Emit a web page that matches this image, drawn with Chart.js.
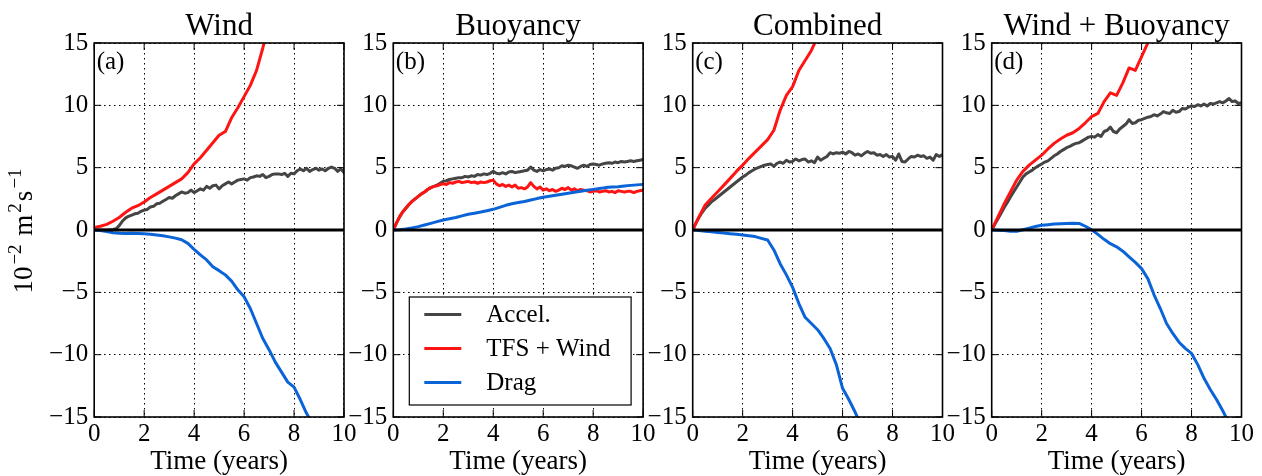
<!DOCTYPE html>
<html>
<head>
<meta charset="utf-8">
<script src="https://cdn.jsdelivr.net/npm/chart.js@4/dist/chart.umd.min.js"></script>
<style>
  html, body { margin: 0; padding: 0; background: #fff; }
  #wrap { position: relative; width: 1262px; height: 476px; overflow: hidden; }
  #wrap canvas { position: absolute; left: 0; top: 0; }
</style>
</head>
<body>
<div id="wrap">
  <canvas id="pa" width="1262" height="476"></canvas>
  <canvas id="pb" width="1262" height="476"></canvas>
  <canvas id="pc" width="1262" height="476"></canvas>
  <canvas id="pd" width="1262" height="476"></canvas>
</div>
<script>
// Time axis (years): fine sampling for the noisy series, coarse for the smooth ones
const yearsFine = [0,0.125,0.25,0.375,0.5,0.625,0.75,0.875,1,1.125,1.25,1.375,1.5,1.625,1.75,1.875,
  2,2.125,2.25,2.375,2.5,2.625,2.75,2.875,3,3.125,3.25,3.375,3.5,3.625,3.75,3.875,
  4,4.125,4.25,4.375,4.5,4.625,4.75,4.875,5,5.125,5.25,5.375,5.5,5.625,5.75,5.875,
  6,6.125,6.25,6.375,6.5,6.625,6.75,6.875,7,7.125,7.25,7.375,7.5,7.625,7.75,7.875,
  8,8.125,8.25,8.375,8.5,8.625,8.75,8.875,9,9.125,9.25,9.375,9.5,9.625,9.75,9.875,10];
const yearsCoarse = [0,0.25,0.5,0.75,1,1.25,1.5,1.75,2,2.25,2.5,2.75,3,3.25,3.5,3.75,
  4,4.25,4.5,4.75,5,5.25,5.5,5.75,6,6.25,6.5,6.75,7,7.25,7.5,7.75,8,8.25,8.5,8.75,9,9.25,9.5,9.75,10];

// Accel. (10^-2 m^2 s^-1), sampled on yearsFine
const accelWind = [0,0,0,0,0,0.02,0.05,0.1,
  0.35,0.7,0.95,1.1,1.2,1.3,1.35,1.5,
  1.6,1.65,1.85,1.9,2.1,2.15,2.3,2.45,
  2.6,2.55,2.75,2.9,3.05,2.95,3.0,3.2,
  3.0,3.15,3.3,3.2,3.5,3.35,3.55,3.6,
  3.3,3.55,3.7,3.85,3.7,3.85,4.0,4.05,
  4.1,4.0,4.2,4.25,4.35,4.3,4.45,4.2,
  4.3,4.45,4.5,4.5,4.45,4.55,4.3,4.55,
  4.5,4.75,4.9,4.75,4.95,4.7,4.85,4.95,
  4.8,4.9,4.75,4.95,5.05,4.95,4.7,4.9,4.6];
const accelBuoy = [0,0.55,1.05,1.45,1.75,2.05,2.3,2.5,
  2.7,2.9,3.05,3.25,3.4,3.5,3.6,3.75,
  3.9,3.95,4.05,4.1,4.15,4.2,4.2,4.3,
  4.25,4.35,4.3,4.45,4.4,4.5,4.45,4.55,
  4.7,4.55,4.5,4.6,4.5,4.65,4.7,4.6,
  4.65,4.7,4.75,4.8,5.05,4.8,4.7,4.85,
  4.75,4.85,4.9,4.8,4.95,5.0,5.15,5.1,
  5.2,5.15,5.05,4.95,5.1,5.2,5.1,5.25,
  5.3,5.25,5.2,5.3,5.35,5.4,5.35,5.45,
  5.4,5.5,5.45,5.5,5.55,5.5,5.55,5.6,5.65];
const accelComb = [0,0.55,1.0,1.4,1.75,2.0,2.25,2.45,
  2.65,2.85,3.05,3.25,3.45,3.65,3.85,4.05,
  4.25,4.4,4.6,4.75,4.9,5.0,5.1,5.2,
  5.25,5.3,5.1,5.35,5.45,5.35,5.6,5.45,
  5.5,5.7,5.55,5.65,5.7,5.45,5.55,5.4,
  5.85,5.6,5.75,5.9,6.2,6.1,6.2,6.15,
  6.25,6.1,6.3,6.2,6.0,6.1,5.95,6.15,
  6.3,6.15,6.2,6.0,6.05,5.9,6.05,5.85,
  5.9,5.6,6.1,5.5,5.45,5.7,5.9,5.85,
  6.0,5.9,5.95,5.75,5.85,5.6,6.05,5.9,6.05];
const accelWB = [0,0.45,0.9,1.35,1.8,2.2,2.65,3.05,
  3.45,3.85,4.25,4.5,4.65,4.8,5.0,5.15,
  5.3,5.45,5.55,5.75,5.95,6.1,6.3,6.45,
  6.6,6.7,6.85,6.95,7.0,7.15,7.3,7.45,
  7.5,7.45,7.65,7.5,7.9,8.0,8.25,7.9,
  7.8,8.1,8.3,8.5,8.85,8.55,8.6,8.8,
  8.85,8.95,9.05,9.1,9.25,9.15,9.3,9.5,
  9.4,9.35,9.6,9.45,9.5,9.75,9.7,9.85,
  9.95,9.9,10.05,9.95,10.1,9.95,10.15,10.1,
  10.2,10.3,10.2,10.35,10.55,10.3,10.35,10.15,10.2];

// TFS + Wind
const tfsWind = [0.2,0.3,0.45,0.7,1.0,1.4,1.75,1.95,2.25,2.6,2.9,3.2,3.5,3.8,4.1,4.6,
  5.3,5.8,6.4,7.0,7.6,7.9,9.0,9.8,10.7,11.6,12.8,14.6,16.6,
  null,null,null,null,null,null,null,null,null,null,null,null];
const tfsBuoy = [0,0.55,1.05,1.45,1.75,2.05,2.3,2.5,
  2.7,2.9,3.05,3.25,3.4,3.5,3.55,3.65,
  3.7,3.65,3.8,3.75,3.85,3.9,3.8,3.85,
  3.9,3.8,3.85,3.75,3.85,3.8,3.85,3.95,
  4.0,3.7,3.55,3.65,3.5,3.6,3.45,3.6,
  3.35,3.4,3.3,3.45,3.8,3.5,3.3,3.45,
  3.2,3.3,3.15,3.25,3.1,3.2,3.35,3.25,
  3.4,3.2,3.3,3.15,3.25,3.2,3.15,3.05,
  3.1,3.15,3.05,3.1,3.15,3.05,3.1,3.0,
  3.15,3.1,3.05,3.1,3.1,3.0,3.1,3.15,3.2];
const tfsComb = [0,1.05,2.0,2.55,3.07,3.6,4.14,4.7,5.2,5.75,6.25,6.75,7.25,8.0,9.6,10.8,
  11.5,12.8,13.6,14.4,15.5,
  null,null,null,null,null,null,null,null,null,null,null,null,null,null,null,null,null,null,null,null];
const tfsWB = [0,1.05,2.1,3.05,4.0,4.7,5.2,5.6,6.0,6.5,6.95,7.3,7.6,7.8,8.15,8.6,
  9.1,9.35,10.3,11.0,10.8,11.8,13.0,12.8,13.9,15.0,16.0,
  null,null,null,null,null,null,null,null,null,null,null,null,null,null];

// Drag
const dragWind = [0,-0.05,-0.12,-0.22,-0.27,-0.28,-0.27,-0.28,-0.3,-0.35,-0.4,-0.47,-0.55,-0.65,-0.78,-1.07,
  -1.55,-2.0,-2.4,-2.95,-3.26,-3.6,-4.1,-4.8,-5.35,-6.3,-7.5,-8.7,-9.6,-10.6,-11.4,-12.2,
  -12.6,-13.6,-14.7,-15.6,null,null,null,null,null];
const dragBuoy = [0,0.02,0.08,0.17,0.27,0.4,0.53,0.67,0.8,0.9,1.0,1.13,1.26,1.35,1.44,1.55,
  1.66,1.82,1.98,2.1,2.2,2.28,2.4,2.52,2.62,2.7,2.78,2.86,2.94,3.02,3.1,3.18,
  3.26,3.33,3.4,3.44,3.47,3.53,3.58,3.62,3.66];
const dragComb = [0,-0.05,-0.1,-0.15,-0.2,-0.25,-0.3,-0.35,-0.4,-0.47,-0.53,-0.67,-0.8,-1.6,-2.7,-3.6,
  -4.6,-5.9,-7.0,-7.5,-8.0,-8.7,-9.5,-10.8,-12.7,-13.6,-14.6,-15.7,
  null,null,null,null,null,null,null,null,null,null,null,null,null];
const dragWB = [0,-0.02,-0.05,-0.1,-0.1,0.02,0.15,0.28,0.38,0.43,0.48,0.5,0.53,0.55,0.53,0.3,
  0.02,-0.35,-0.75,-1.1,-1.35,-1.7,-2.15,-2.6,-3.1,-3.9,-5.2,-6.3,-7.5,-8.3,-9.0,-9.5,
  -9.9,-10.8,-11.9,-12.8,-13.6,-14.5,-15.5,null,null];

// Labels and ticks
const panelTitles = ['Wind', 'Buoyancy', 'Combined', 'Wind + Buoyancy'];
const panelLetters = ['(a)', '(b)', '(c)', '(d)'];
const seriesLabels = ['Accel.', 'TFS + Wind', 'Drag'];
const xTicks = [0, 2, 4, 6, 8, 10];
const yTicks = [-15, -10, -5, 0, 5, 10, 15];
const xTitle = 'Time (years)';
const yTitleParts = [['10', 0], ['\u22122', 1], [' m', 0], ['2', 1], ['s', 0], ['\u22121', 1]];

const colors = { accel: '#454545', tfs: '#ff1414', drag: '#0a64d8' };
const SERIF = "'Liberation Serif', 'Times New Roman', serif";
Chart.defaults.font.family = SERIF;
Chart.defaults.color = '#000';

const pts = (xs, ys) => xs.map((t, i) => ({ x: t, y: ys[i] }));

// Frame, zero line, inward ticks, titles, panel letters, legend and y title
const panelDecor = {
  id: 'panelDecor',
  afterDatasetsDraw(chart, args, o) {
    const { ctx, chartArea: a, scales: { x, y } } = chart;
    ctx.save();
    ctx.strokeStyle = '#000';
    ctx.fillStyle = '#000';
    const seg = (x1, y1, x2, y2) => { ctx.beginPath(); ctx.moveTo(x1, y1); ctx.lineTo(x2, y2); ctx.stroke(); };

    const y0 = y.getPixelForValue(0);
    ctx.lineWidth = 3;
    seg(a.left, y0, a.right, y0);

    ctx.lineWidth = 1;
    x.ticks.forEach(t => {
      const px = x.getPixelForValue(t.value);
      seg(px, a.bottom, px, a.bottom - 7);
      seg(px, a.top, px, a.top + 7);
    });
    y.ticks.forEach(t => {
      const py = y.getPixelForValue(t.value);
      seg(a.left, py, a.left + 7, py);
      seg(a.right, py, a.right - 7, py);
    });

    ctx.lineWidth = 1.6;
    ctx.strokeRect(a.left, a.top, a.right - a.left, a.bottom - a.top);

    ctx.font = '31px ' + SERIF;
    ctx.textAlign = 'center';
    ctx.textBaseline = 'alphabetic';
    ctx.fillText(o.title, (a.left + a.right) / 2, a.top - 8);

    ctx.font = '25px ' + SERIF;
    ctx.textAlign = 'left';
    ctx.fillText(o.letter, a.left + 2.5, a.top + 26);

    if (o.legend) {
      const bx = a.left + 16, bw = (a.right - 12) - bx;
      const bh = 108, by = a.bottom - 12 - bh;
      ctx.fillStyle = '#fff';
      ctx.fillRect(bx, by, bw, bh);
      ctx.lineWidth = 1.2;
      ctx.strokeRect(bx, by, bw, bh);
      ctx.textBaseline = 'middle';
      ctx.font = '25px ' + SERIF;
      const items = chart.data.datasets.slice().sort((p, q) => q.order - p.order);
      items.forEach((ds, i) => {
        const ry = by + 17.5 + i * 34;
        ctx.strokeStyle = ds.borderColor;
        ctx.lineWidth = 3;
        seg(a.left + 31, ry, a.left + 68, ry);
        ctx.fillStyle = '#000';
        ctx.fillText(ds.label, a.left + 93, ry + 1);
      });
    }

    if (o.yTitle) {
      ctx.translate(32, (a.top + a.bottom) / 2);
      ctx.rotate(-Math.PI / 2);
      ctx.textAlign = 'left';
      ctx.textBaseline = 'alphabetic';
      ctx.fillStyle = '#000';
      const mainFont = '27px ' + SERIF, supFont = '19px ' + SERIF;
      const gap = 2;
      let total = 0;
      yTitleParts.forEach(([s, sup]) => { ctx.font = sup ? supFont : mainFont; total += ctx.measureText(s).width + gap; });
      let cx = -total / 2;
      yTitleParts.forEach(([s, sup]) => {
        ctx.font = sup ? supFont : mainFont;
        ctx.fillText(s, cx, sup ? -11 : 0);
        cx += ctx.measureText(s).width + gap;
      });
    }
    ctx.restore();
  }
};

const plotLefts = [94.2, 393.3, 692.7, 991.7];
const plotWidth = 249.8;
const CANVAS_W = 1262;
const Y_AXIS_W = 60, X_AXIS_H = 59;

function makePanel(id, idx, accel, tfs, tfsXs, drag) {
  const left = plotLefts[idx];
  new Chart(document.getElementById(id), {
    type: 'line',
    data: {
      datasets: [
        { label: seriesLabels[0], data: pts(yearsFine, accel), borderColor: colors.accel, order: 3 },
        { label: seriesLabels[1], data: pts(tfsXs, tfs), borderColor: colors.tfs, order: 2 },
        { label: seriesLabels[2], data: pts(yearsCoarse, drag), borderColor: colors.drag, order: 1 }
      ]
    },
    options: {
      responsive: false,
      animation: false,
      devicePixelRatio: 1,
      events: [],
      layout: { padding: { left: left - Y_AXIS_W, right: CANVAS_W - left - plotWidth, top: 43, bottom: 0 } },
      elements: {
        point: { radius: 0 },
        line: { borderWidth: 3, tension: 0, borderJoinStyle: 'round', borderCapStyle: 'butt' }
      },
      datasets: { line: { clip: 0, spanGaps: false } },
      plugins: {
        legend: { display: false },
        tooltip: { enabled: false },
        panelDecor: { title: panelTitles[idx], letter: panelLetters[idx], legend: idx === 1, yTitle: idx === 0 }
      },
      scales: {
        x: {
          type: 'linear', min: 0, max: 10,
          afterBuildTicks: s => { s.ticks = xTicks.map(v => ({ value: v })); },
          afterFit: s => { s.height = X_AXIS_H; s.paddingLeft = 0; s.paddingRight = 0; },
          ticks: { font: { size: 25 }, padding: 2, maxRotation: 0, autoSkip: false, color: '#000' },
          grid: { color: '#000', lineWidth: 1, drawTicks: false, borderDash: [1.5, 3.5] },
          border: { display: false, dash: [1.5, 3.5] },
          title: { display: true, text: xTitle, font: { size: 27, lineHeight: 1.05 }, color: '#000', padding: { top: 0, bottom: 0 } }
        },
        y: {
          type: 'linear', min: -15, max: 15,
          afterBuildTicks: s => { s.ticks = yTicks.map(v => ({ value: v })); },
          afterFit: s => { s.width = Y_AXIS_W; s.paddingTop = 0; s.paddingBottom = 0; },
          ticks: {
            font: { size: 25 }, padding: 6, autoSkip: false, color: '#000',
            callback: v => (v < 0 ? '\u2212' + Math.abs(v) : String(v))
          },
          grid: { color: '#000', lineWidth: 1, drawTicks: false, borderDash: [1.5, 3.5] },
          border: { display: false, dash: [1.5, 3.5] }
        }
      }
    },
    plugins: [panelDecor]
  });
}

makePanel('pa', 0, accelWind, tfsWind, yearsCoarse, dragWind);
makePanel('pb', 1, accelBuoy, tfsBuoy, yearsFine, dragBuoy);
makePanel('pc', 2, accelComb, tfsComb, yearsCoarse, dragComb);
makePanel('pd', 3, accelWB, tfsWB, yearsCoarse, dragWB);
</script>
</body>
</html>
